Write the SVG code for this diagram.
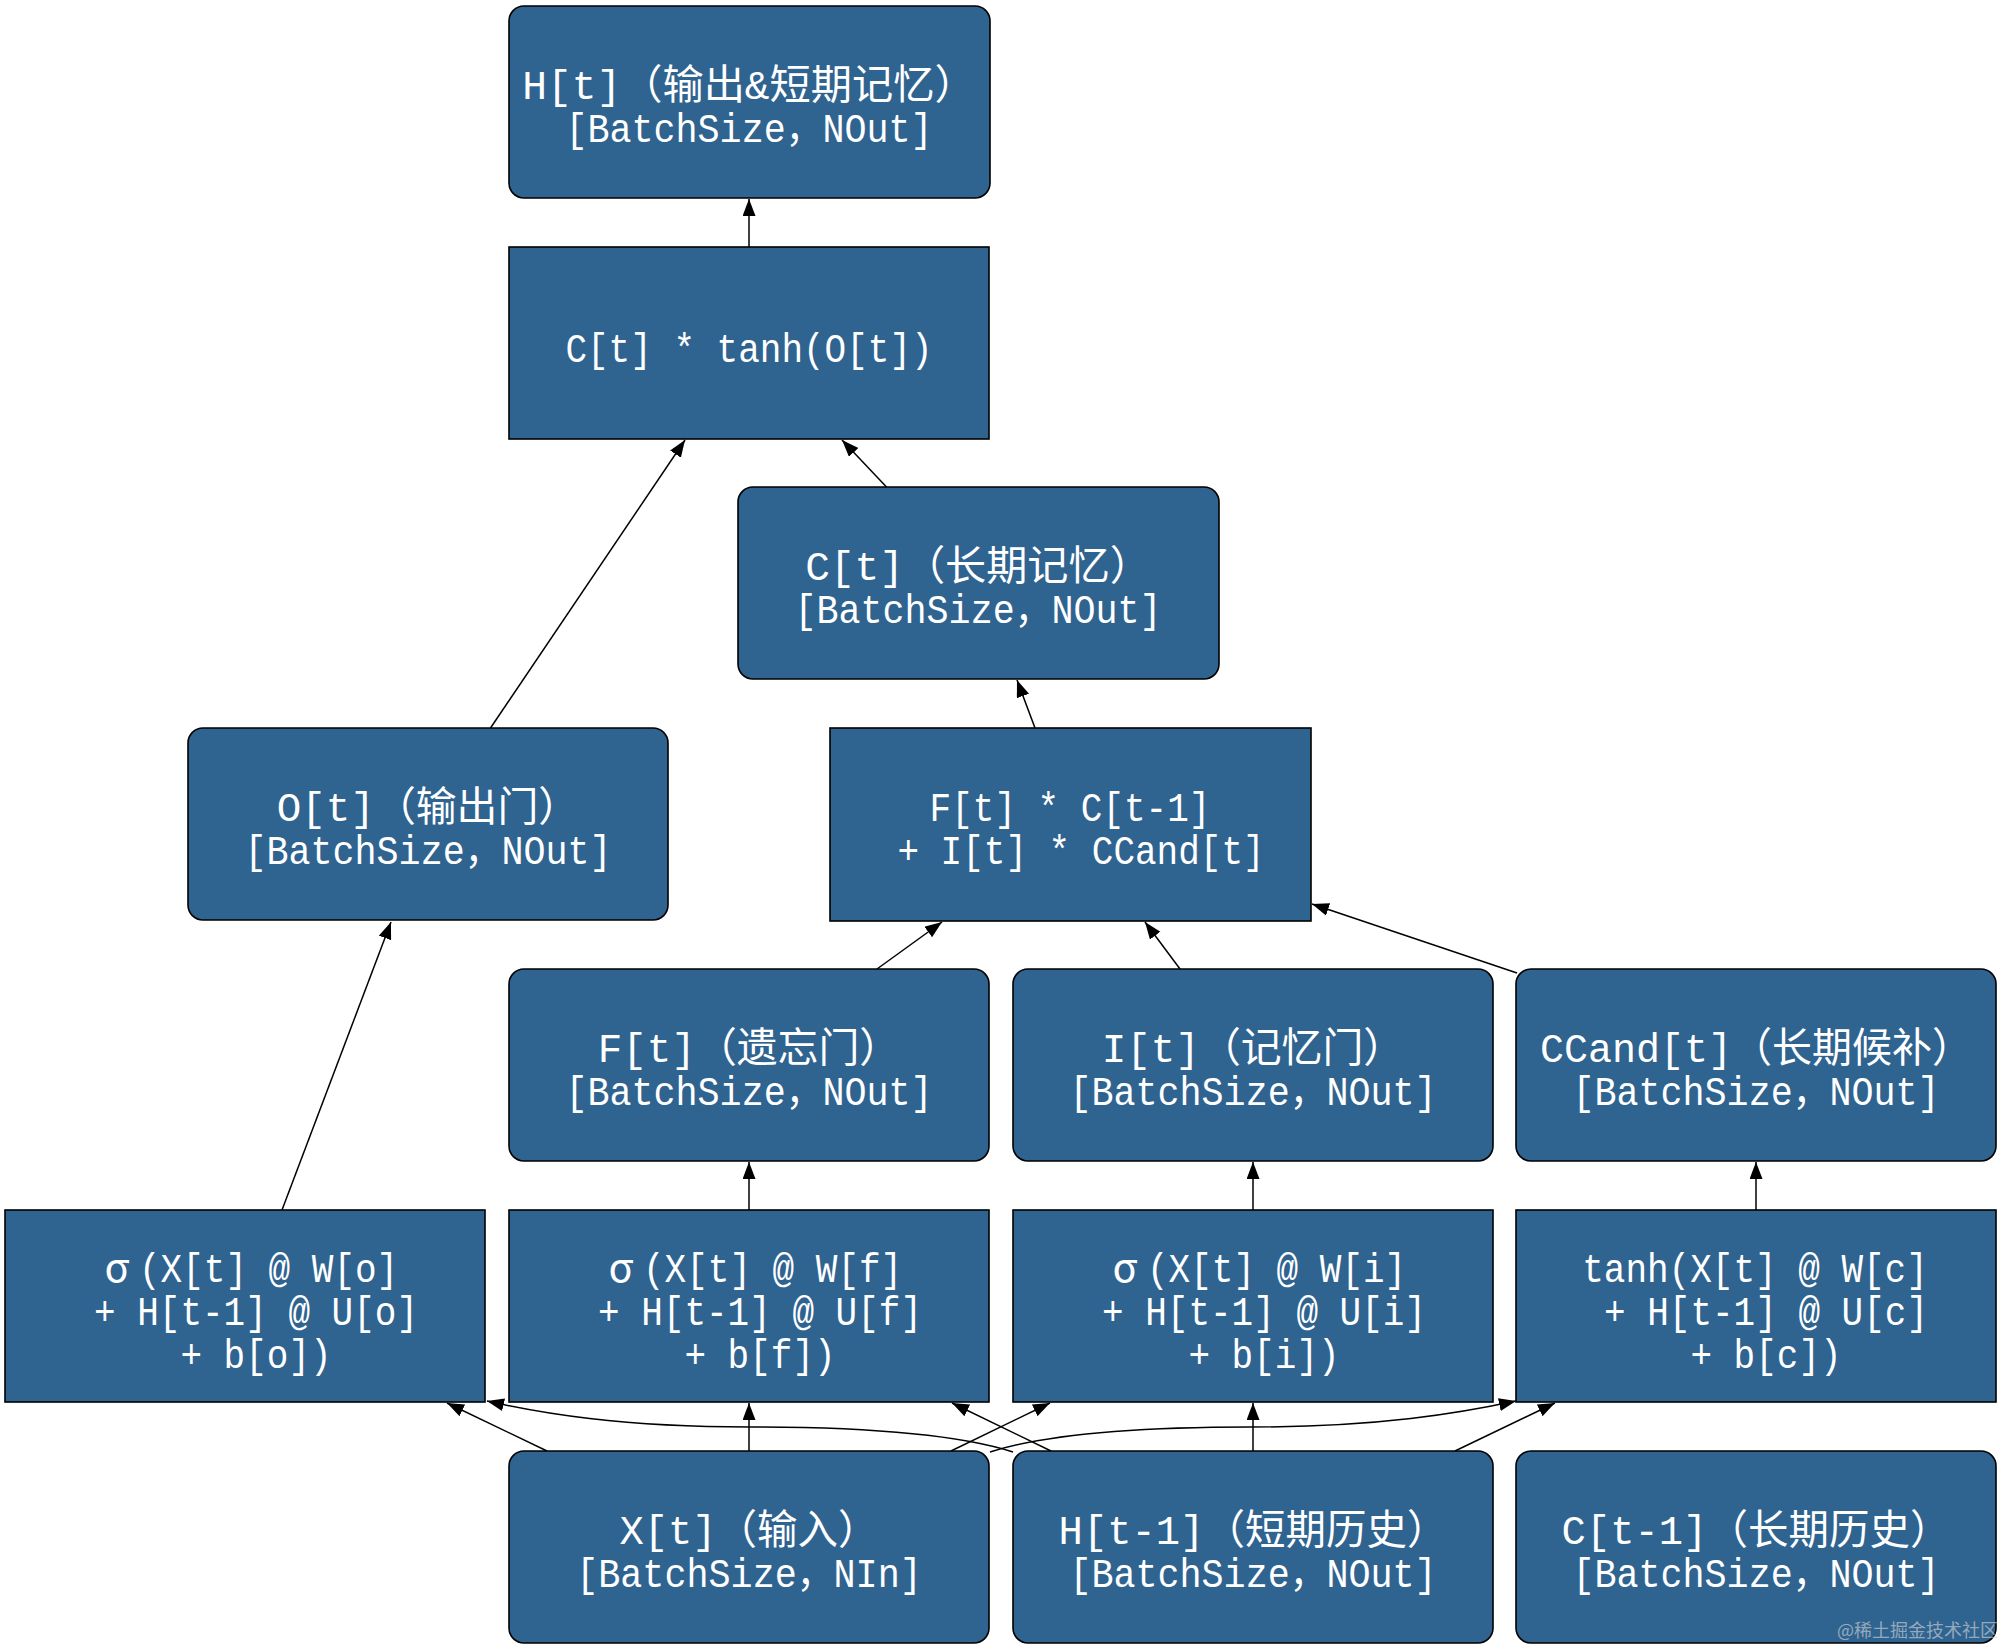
<svg xmlns="http://www.w3.org/2000/svg" width="2003" height="1649" viewBox="0 0 2003 1649">
<style>
.box{fill:#2f6390;stroke:#000;stroke-width:1.6}
.t{fill:#fff;font-family:"Liberation Mono","Noto Sans CJK SC",monospace;font-size:41px;text-anchor:middle}
.cj{font-family:"Noto Sans CJK SC",sans-serif}
.st{text-anchor:start}
.e{fill:none;stroke:#000;stroke-width:1.5;marker-end:url(#ah)}
.wm{fill:#d8d8d8;opacity:0.6;font-family:"Noto Sans CJK SC",sans-serif;font-size:18px}
</style>
<defs>
<marker id="ah" markerUnits="userSpaceOnUse" markerWidth="18" markerHeight="14" refX="17" refY="6.5" orient="auto" viewBox="0 0 18 14">
<path d="M0,0 L17,6.5 L0,13 z" fill="#000"/>
</marker>
</defs>
<rect width="2003" height="1649" fill="#fff"/>
<g id="edges">
<path class="e" d="M749,247 L749,199"/>
<path class="e" d="M490.5,728 L685,440"/>
<path class="e" d="M886.5,487 L842,440"/>
<path class="e" d="M1035,728 L1017,680"/>
<path class="e" d="M877,969 L942,922"/>
<path class="e" d="M1180,969 L1145,922"/>
<path class="e" d="M1517,973 L1312,904"/>
<path class="e" d="M282,1210 L391,922"/>
<path class="e" d="M749,1210 L749,1162"/>
<path class="e" d="M1253,1210 L1253,1162"/>
<path class="e" d="M1756,1210 L1756,1162"/>
<path class="e" d="M547,1451 L447,1403"/>
<path class="e" d="M749,1451 L749,1403"/>
<path class="e" d="M951,1451 L1050,1403"/>
<path class="e" d="M990,1452 C1040,1436 1120,1427 1250,1427 C1380,1427 1460,1413 1516,1401"/>
<path class="e" d="M1013,1452 C963,1436 880,1427 750,1427 C620,1427 540,1413 487,1401"/>
<path class="e" d="M1051,1451 L952,1403"/>
<path class="e" d="M1253,1451 L1253,1403"/>
<path class="e" d="M1455,1451 L1555,1403"/>
</g>
<g id="n_ht"><rect class="box" x="509" y="6" width="481" height="192" rx="15"/>
<text class="t" x="749" y="99" textLength="453.6" lengthAdjust="spacingAndGlyphs">H[t]（输出&amp;短期记忆）</text>
<text class="t" x="749" y="142" textLength="367.2" lengthAdjust="spacingAndGlyphs">[BatchSize，NOut]</text></g>
<g id="n_ctanh"><rect class="box" x="509" y="247" width="480" height="192"/>
<text class="t" x="749" y="361.5" textLength="367.2" lengthAdjust="spacingAndGlyphs">C[t] * tanh(O[t])</text></g>
<g id="n_ct"><rect class="box" x="738" y="487" width="481" height="192" rx="15"/>
<text class="t" x="978" y="580" textLength="345.6" lengthAdjust="spacingAndGlyphs">C[t]（长期记忆）</text>
<text class="t" x="978" y="623" textLength="367.2" lengthAdjust="spacingAndGlyphs">[BatchSize，NOut]</text></g>
<g id="n_ot"><rect class="box" x="188" y="728" width="480" height="192" rx="15"/>
<text class="t" x="428" y="821" textLength="302.4" lengthAdjust="spacingAndGlyphs">O[t]（输出门）</text>
<text class="t" x="428" y="864" textLength="367.2" lengthAdjust="spacingAndGlyphs">[BatchSize，NOut]</text></g>
<g id="n_fc"><rect class="box" x="830" y="728" width="481" height="193"/>
<text class="t" x="1070" y="821" textLength="280.8" lengthAdjust="spacingAndGlyphs">F[t] * C[t-1]</text>
<text class="t" x="1081" y="864" textLength="367.2" lengthAdjust="spacingAndGlyphs">+ I[t] * CCand[t]</text></g>
<g id="n_ft"><rect class="box" x="509" y="969" width="480" height="192" rx="15"/>
<text class="t" x="749" y="1062" textLength="302.4" lengthAdjust="spacingAndGlyphs">F[t]（遗忘门）</text>
<text class="t" x="749" y="1105" textLength="367.2" lengthAdjust="spacingAndGlyphs">[BatchSize，NOut]</text></g>
<g id="n_it"><rect class="box" x="1013" y="969" width="480" height="192" rx="15"/>
<text class="t" x="1253" y="1062" textLength="302.4" lengthAdjust="spacingAndGlyphs">I[t]（记忆门）</text>
<text class="t" x="1253" y="1105" textLength="367.2" lengthAdjust="spacingAndGlyphs">[BatchSize，NOut]</text></g>
<g id="n_ccand"><rect class="box" x="1516" y="969" width="480" height="192" rx="15"/>
<text class="t" x="1756" y="1062" textLength="432" lengthAdjust="spacingAndGlyphs">CCand[t]（长期候补）</text>
<text class="t" x="1756" y="1105" textLength="367.2" lengthAdjust="spacingAndGlyphs">[BatchSize，NOut]</text></g>
<g id="n_so"><rect class="box" x="5" y="1210" width="480" height="192"/>
<text class="t" y="1281.5"><tspan class="cj" x="117">σ</tspan><tspan class="st" x="139" textLength="259.2" lengthAdjust="spacingAndGlyphs">(X[t] @ W[o]</tspan></text>
<text class="t" x="256" y="1324.5" textLength="324" lengthAdjust="spacingAndGlyphs">+ H[t-1] @ U[o]</text>
<text class="t" x="256" y="1367.5" textLength="151.2" lengthAdjust="spacingAndGlyphs">+ b[o])</text></g>
<g id="n_sf"><rect class="box" x="509" y="1210" width="480" height="192"/>
<text class="t" y="1281.5"><tspan class="cj" x="621">σ</tspan><tspan class="st" x="643" textLength="259.2" lengthAdjust="spacingAndGlyphs">(X[t] @ W[f]</tspan></text>
<text class="t" x="760" y="1324.5" textLength="324" lengthAdjust="spacingAndGlyphs">+ H[t-1] @ U[f]</text>
<text class="t" x="760" y="1367.5" textLength="151.2" lengthAdjust="spacingAndGlyphs">+ b[f])</text></g>
<g id="n_si"><rect class="box" x="1013" y="1210" width="480" height="192"/>
<text class="t" y="1281.5"><tspan class="cj" x="1125">σ</tspan><tspan class="st" x="1147" textLength="259.2" lengthAdjust="spacingAndGlyphs">(X[t] @ W[i]</tspan></text>
<text class="t" x="1264" y="1324.5" textLength="324" lengthAdjust="spacingAndGlyphs">+ H[t-1] @ U[i]</text>
<text class="t" x="1264" y="1367.5" textLength="151.2" lengthAdjust="spacingAndGlyphs">+ b[i])</text></g>
<g id="n_tc"><rect class="box" x="1516" y="1210" width="480" height="192"/>
<text class="t" x="1755" y="1281.5" textLength="345.6" lengthAdjust="spacingAndGlyphs">tanh(X[t] @ W[c]</text>
<text class="t" x="1766" y="1324.5" textLength="324" lengthAdjust="spacingAndGlyphs">+ H[t-1] @ U[c]</text>
<text class="t" x="1766" y="1367.5" textLength="151.2" lengthAdjust="spacingAndGlyphs">+ b[c])</text></g>
<g id="n_x"><rect class="box" x="509" y="1451" width="480" height="192" rx="15"/>
<text class="t" x="749" y="1544" textLength="259.2" lengthAdjust="spacingAndGlyphs">X[t]（输入）</text>
<text class="t" x="749" y="1587" textLength="345.6" lengthAdjust="spacingAndGlyphs">[BatchSize，NIn]</text></g>
<g id="n_h1"><rect class="box" x="1013" y="1451" width="480" height="192" rx="15"/>
<text class="t" x="1253" y="1544" textLength="388.8" lengthAdjust="spacingAndGlyphs">H[t-1]（短期历史）</text>
<text class="t" x="1253" y="1587" textLength="367.2" lengthAdjust="spacingAndGlyphs">[BatchSize，NOut]</text></g>
<g id="n_c1"><rect class="box" x="1516" y="1451" width="480" height="192" rx="15"/>
<text class="t" x="1756" y="1544" textLength="388.8" lengthAdjust="spacingAndGlyphs">C[t-1]（长期历史）</text>
<text class="t" x="1756" y="1587" textLength="367.2" lengthAdjust="spacingAndGlyphs">[BatchSize，NOut]</text></g>
<text class="wm" x="1837" y="1637">@稀土掘金技术社区</text>
</svg>
